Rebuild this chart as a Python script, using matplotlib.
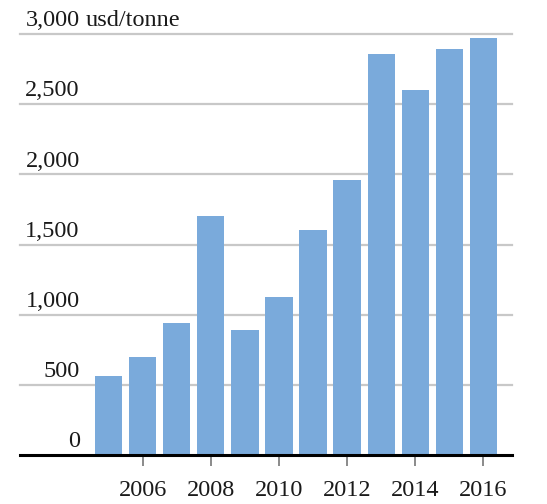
import matplotlib
matplotlib.use("Agg")
import matplotlib.pyplot as plt

years = [2005, 2006, 2007, 2008, 2009, 2010, 2011, 2012, 2013, 2014, 2015, 2016]
prices = [560, 700, 940, 1700, 890, 1125, 1600, 1960, 2860, 2600, 2890, 2970]
yticks = [0, 500, 1000, 1500, 2000, 2500, 3000]
ylabels = ["0", "500", "1,000", "1,500", "2,000", "2,500", "3,000"]
xticks = [2006, 2008, 2010, 2012, 2014, 2016]

plt.rcParams["font.family"] = ["Liberation Serif", "DejaVu Serif"]

fig = plt.figure(figsize=(5.47, 5.04), dpi=100)
ax = fig.add_axes([20 / 547, 1 - 455 / 504, 492 / 547, 421 / 504])

for y in yticks[1:]:
    ax.axhline(y, color="#c8c8c8", lw=1.6, zorder=0, clip_on=False)

ax.bar(years, prices, width=0.8, color="#7aaadb", zorder=2)
ax.axhline(0, color="black", lw=2.2, zorder=3, clip_on=False)

ax.set_xlim(2002.4, 2016.84)
ax.set_ylim(0, 3000)

for y, lab in zip(yticks, ylabels):
    ax.annotate(lab, xy=(0, y), xycoords=("axes fraction", "data"),
                xytext=(43, 2), textcoords="offset points",
                ha="right", va="bottom", fontsize=17.5, color="#1a1a1a")
ax.annotate("usd/tonne", xy=(0, 3000), xycoords=("axes fraction", "data"),
            xytext=(47, 2), textcoords="offset points",
            ha="left", va="bottom", fontsize=17.5, color="#1a1a1a")

ax.set_xticks(xticks)
ax.set_xticklabels([str(x) for x in xticks], fontsize=17.5, color="#1a1a1a")
ax.tick_params(axis="x", length=8, width=1.2, color="#777777", pad=10)
ax.set_yticks([])

for s in ax.spines.values():
    s.set_visible(False)

fig.savefig("out.png", dpi=100)
